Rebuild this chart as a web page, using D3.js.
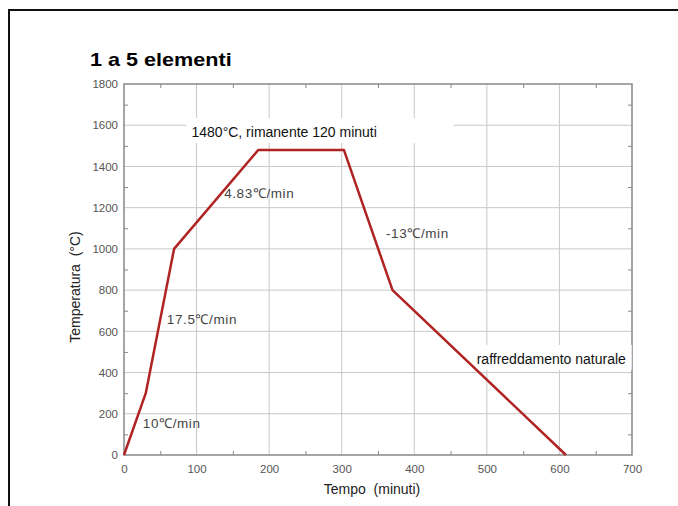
<!DOCTYPE html>
<html>
<head>
<meta charset="utf-8">
<script src="https://cdn.jsdelivr.net/npm/d3@7"></script>
<style>
  body { margin: 0; background: #fff; }
  svg { display: block; font-family: "Liberation Sans", Arial, sans-serif; }
</style>
</head>
<body>
<div id="chart"></div>
<script>
// profile points: time (min) and temperature (°C)
const times = [0, 30, 69, 185, 303, 370, 609];
const temps = [0, 300, 1000, 1480, 1480, 800, 0];
const xTicks = [0, 100, 200, 300, 400, 500, 600, 700];
const yTicks = [0, 200, 400, 600, 800, 1000, 1200, 1400, 1600, 1800];
const notes = [
    {text: "10\u2103/min", t: 26, v: 131},
    {text: "17.5\u2103/min", t: 59, v: 635},
    {text: "4.83\u2103/min", t: 138, v: 1245},
    {text: "-13\u2103/min", t: 361, v: 1055}
];
const boxed = [
    {text: "1480\u00b0C, rimanente 120 minuti", t: 93, v: 1543, w: 267},
    {text: "raffreddamento naturale", t: 486, v: 442, w: 160}
];

const W = 678, H = 506;
const margin = {left: 124, right: 46, top: 84, bottom: 51};
const w = W - margin.left - margin.right;
const h = H - margin.top - margin.bottom;

const svg = d3.select("#chart").append("svg")
    .attr("width", W).attr("height", H);

// outer frame
svg.append("rect")
    .attr("x", 9).attr("y", 10)
    .attr("width", W).attr("height", H)
    .attr("fill", "none").attr("stroke", "#111").attr("stroke-width", 2);

// title, a bit stretched like the source image
svg.append("text")
    .attr("transform", "translate(90,66) scale(1.2,1)")
    .attr("font-size", 18).attr("font-weight", "bold")
    .attr("fill", "#000")
    .text("1 a 5 elementi");

const g = svg.append("g")
    .attr("transform", "translate(" + margin.left + "," + margin.top + ")");

const x = d3.scaleLinear().domain([0, 700]).range([0, w]);
const y = d3.scaleLinear().domain([0, 1800]).range([h, 0]);

// grid
g.append("g").selectAll("line")
    .data(xTicks.slice(1, -1))
    .enter().append("line")
    .attr("x1", d => x(d)).attr("x2", d => x(d))
    .attr("y1", 0).attr("y2", h)
    .attr("stroke", "#c8c8c8").attr("stroke-width", 1);
g.append("g").selectAll("line")
    .data(yTicks.slice(1, -1))
    .enter().append("line")
    .attr("x1", 0).attr("x2", w)
    .attr("y1", d => y(d)).attr("y2", d => y(d))
    .attr("stroke", "#c8c8c8").attr("stroke-width", 1);

// minor ticks on all four sides
const minorX = d3.range(50, 700, 100);
const minorY = d3.range(100, 1800, 200);
g.append("g").call(d3.axisBottom(x).tickValues(minorX).tickSize(-4).tickFormat(""))
    .attr("transform", "translate(0," + h + ")")
    .call(s => s.select(".domain").remove())
    .selectAll("line").attr("stroke", "#888");
g.append("g").call(d3.axisTop(x).tickValues(minorX).tickSize(-4).tickFormat(""))
    .call(s => s.select(".domain").remove())
    .selectAll("line").attr("stroke", "#888");
g.append("g").call(d3.axisLeft(y).tickValues(minorY).tickSize(-4).tickFormat(""))
    .call(s => s.select(".domain").remove())
    .selectAll("line").attr("stroke", "#888");
g.append("g").call(d3.axisRight(y).tickValues(minorY).tickSize(-4).tickFormat(""))
    .attr("transform", "translate(" + w + ",0)")
    .call(s => s.select(".domain").remove())
    .selectAll("line").attr("stroke", "#888");

// axes box
g.append("rect")
    .attr("width", w).attr("height", h)
    .attr("fill", "none").attr("stroke", "#888").attr("stroke-width", 1.5);

// tick labels
const xAxis = g.append("g")
    .attr("transform", "translate(0," + h + ")")
    .call(d3.axisBottom(x).tickValues(xTicks).tickFormat(d3.format("d")).tickSize(0).tickPadding(10));
xAxis.select(".domain").remove();
xAxis.selectAll("text").attr("font-size", 11.5).attr("fill", "#555")
    .attr("font-family", "Liberation Sans, Arial, sans-serif");

const yAxis = g.append("g")
    .call(d3.axisLeft(y).tickValues(yTicks).tickFormat(d3.format("d")).tickSize(0).tickPadding(6));
yAxis.select(".domain").remove();
yAxis.selectAll("text").attr("font-size", 11.5).attr("fill", "#555")
    .attr("font-family", "Liberation Sans, Arial, sans-serif");

// axis titles
svg.append("text")
    .attr("x", 372).attr("y", 494)
    .attr("text-anchor", "middle").attr("font-size", 14).attr("fill", "#222")
    .attr("xml:space", "preserve")
    .text("Tempo  (minuti)");
svg.append("text")
    .attr("transform", "translate(80," + 287 + ") rotate(-90)")
    .attr("text-anchor", "middle").attr("font-size", 14).attr("fill", "#222")
    .attr("xml:space", "preserve")
    .text("Temperatura  (\u00b0C)");

// white boxed labels
boxed.forEach(b => {
    g.append("rect")
        .attr("x", x(b.t) - 5).attr("y", y(b.v) - 19)
        .attr("width", b.w).attr("height", 25)
        .attr("fill", "#fff");
});

// profile line
const pts = times.map((t, i) => ({t: t, v: temps[i]}));
g.append("path")
    .datum(pts)
    .attr("fill", "none")
    .attr("stroke", "#b02323")
    .attr("stroke-width", 2.5)
    .attr("stroke-linejoin", "round")
    .attr("d", d3.line().x(d => x(d.t)).y(d => y(d.v)));

boxed.forEach(b => {
    g.append("text")
        .attr("x", x(b.t)).attr("y", y(b.v))
        .attr("font-size", 14).attr("fill", "#111")
        .text(b.text);
});

notes.forEach(n => {
    g.append("text")
        .attr("x", x(n.t)).attr("y", y(n.v))
        .attr("font-size", 13.5).attr("fill", "#444")
        .attr("letter-spacing", 0.6)
        .text(n.text);
});
</script>
</body>
</html>
